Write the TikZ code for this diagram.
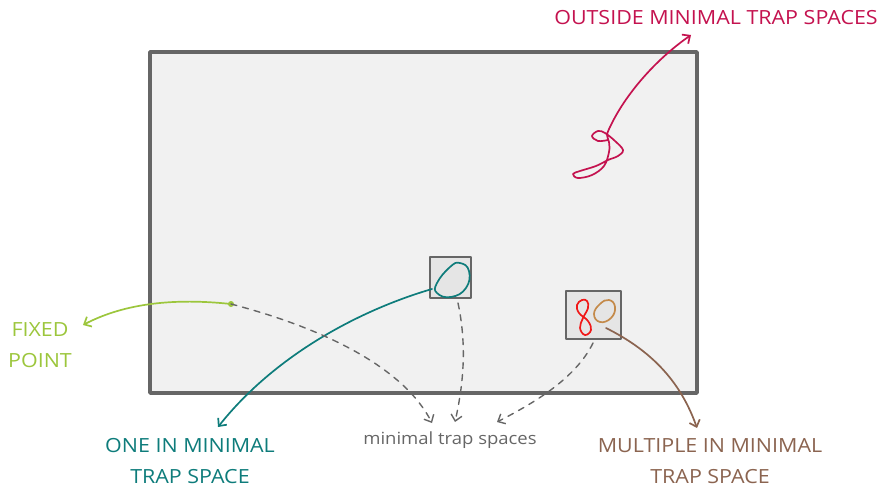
\documentclass[tikz,border=0pt]{standalone}
\usepackage{fontspec}
\setmainfont{Open Sans}[FakeStretch=1.1]
\usetikzlibrary{arrows.meta}
\definecolor{frame}{HTML}{666666}
\definecolor{paper}{HTML}{F1F1F1}
\definecolor{boxfill}{HTML}{E5E5E5}
\definecolor{outcol}{HTML}{C4124F}
\definecolor{fixcol}{HTML}{9CC63C}
\definecolor{onecol}{HTML}{0E7C7B}
\definecolor{multcol}{HTML}{8B6450}
\definecolor{redloop}{HTML}{F01818}
\definecolor{tanloop}{HTML}{C48A4A}
\begin{document}
\begin{tikzpicture}[x=1pt, y=-1pt, line join=round, line cap=round,
    >={Straight Barb[length=6pt,width=11pt]},
    label/.style={align=center, font=\fontsize{19.5}{31}\selectfont},
    trap/.style={draw=frame, line width=2pt, fill=boxfill, minimum size=0pt}]
  \useasboundingbox (0,0) rectangle (885,487);
  % state space
  \draw[frame, line width=3.5pt, fill=paper] (150,52) rectangle (697,393);
  % two minimal trap spaces
  \draw[trap] (430,257) rectangle (471,298);
  \draw[trap] (566,291) rectangle (621,339);
  \coordinate (one) at (432,289);
  \coordinate (onelow) at (458,303);
  \coordinate (mult) at (606,328);
  \coordinate (multlow) at (593,343);
  \coordinate (scribble) at (610,127);
  \fill[fixcol] (231,304) circle (3pt) coordinate (fix);
  % attractors
  \draw[onecol, line width=1.7pt] plot[smooth cycle, tension=0.8] coordinates
    {(437,283) (450,267) (460,263) (469,271) (466,288) (451,297) (437,293)};
  \draw[redloop, line width=1.7pt] plot[smooth cycle, tension=0.7] coordinates
    {(582,300) (577,305) (579,313) (588,321) (591,330) (585,335) (580,328) (583,318) (588,308) (587,301)};
  \draw[tanloop, line width=1.7pt] plot[smooth cycle, tension=0.8] coordinates
    {(600,304) (609,300) (615,307) (611,318) (600,322) (594,314)};
  \draw[outcol, line width=1.7pt] plot[smooth, tension=0.6] coordinates
    {(608,140) (598,141) (592,136) (598,131) (605,133) (615,141) (623,150) (618,156)
     (608,160) (596,166) (580,171) (573,174) (578,178) (592,175) (604,166) (609,152)
     (609,142) (607,135) (scribble)};
  % labels
  \node[label, text=outcol] (outside) at (716,18) {OUTSIDE MINIMAL TRAP SPACES};
  \node[label, text=fixcol] (fixed) at (40,345.5) {FIXED\\POINT};
  \node[label, text=onecol] (onelabel) at (190,461.5) {ONE IN MINIMAL\\TRAP SPACE};
  \node[label, text=multcol] (multlabel) at (710,461.5) {MULTIPLE IN MINIMAL\\TRAP SPACE};
  \node[text=frame, font=\fontsize{16.8}{18}\selectfont] (minimal) at (450,440) {minimal trap spaces};
  % connectors
  \draw[->, outcol, line width=1.7pt] (scribble) .. controls (625,95) and (655,60) .. (691,35);
  \draw[->, fixcol, line width=1.7pt] (fix) .. controls (175,298) and (125,303) .. (83,325);
  \draw[->, onecol, line width=1.7pt] (one) .. controls (360,310) and (275,355) .. (218,427);
  \draw[->, multcol, line width=1.7pt] (mult) .. controls (650,350) and (680,380) .. (697,428);
  \draw[->, frame, dashed, line width=1.4pt, dash pattern=on 6pt off 6pt] (fix) .. controls (330,330) and (405,370) .. (432,423);
  \draw[->, frame, dashed, line width=1.4pt, dash pattern=on 6pt off 6pt] (onelow) .. controls (468,350) and (462,390) .. (455,422);
  \draw[->, frame, dashed, line width=1.4pt, dash pattern=on 6pt off 6pt] (multlow) .. controls (575,380) and (530,405) .. (497,422);
\end{tikzpicture}
\end{document}
